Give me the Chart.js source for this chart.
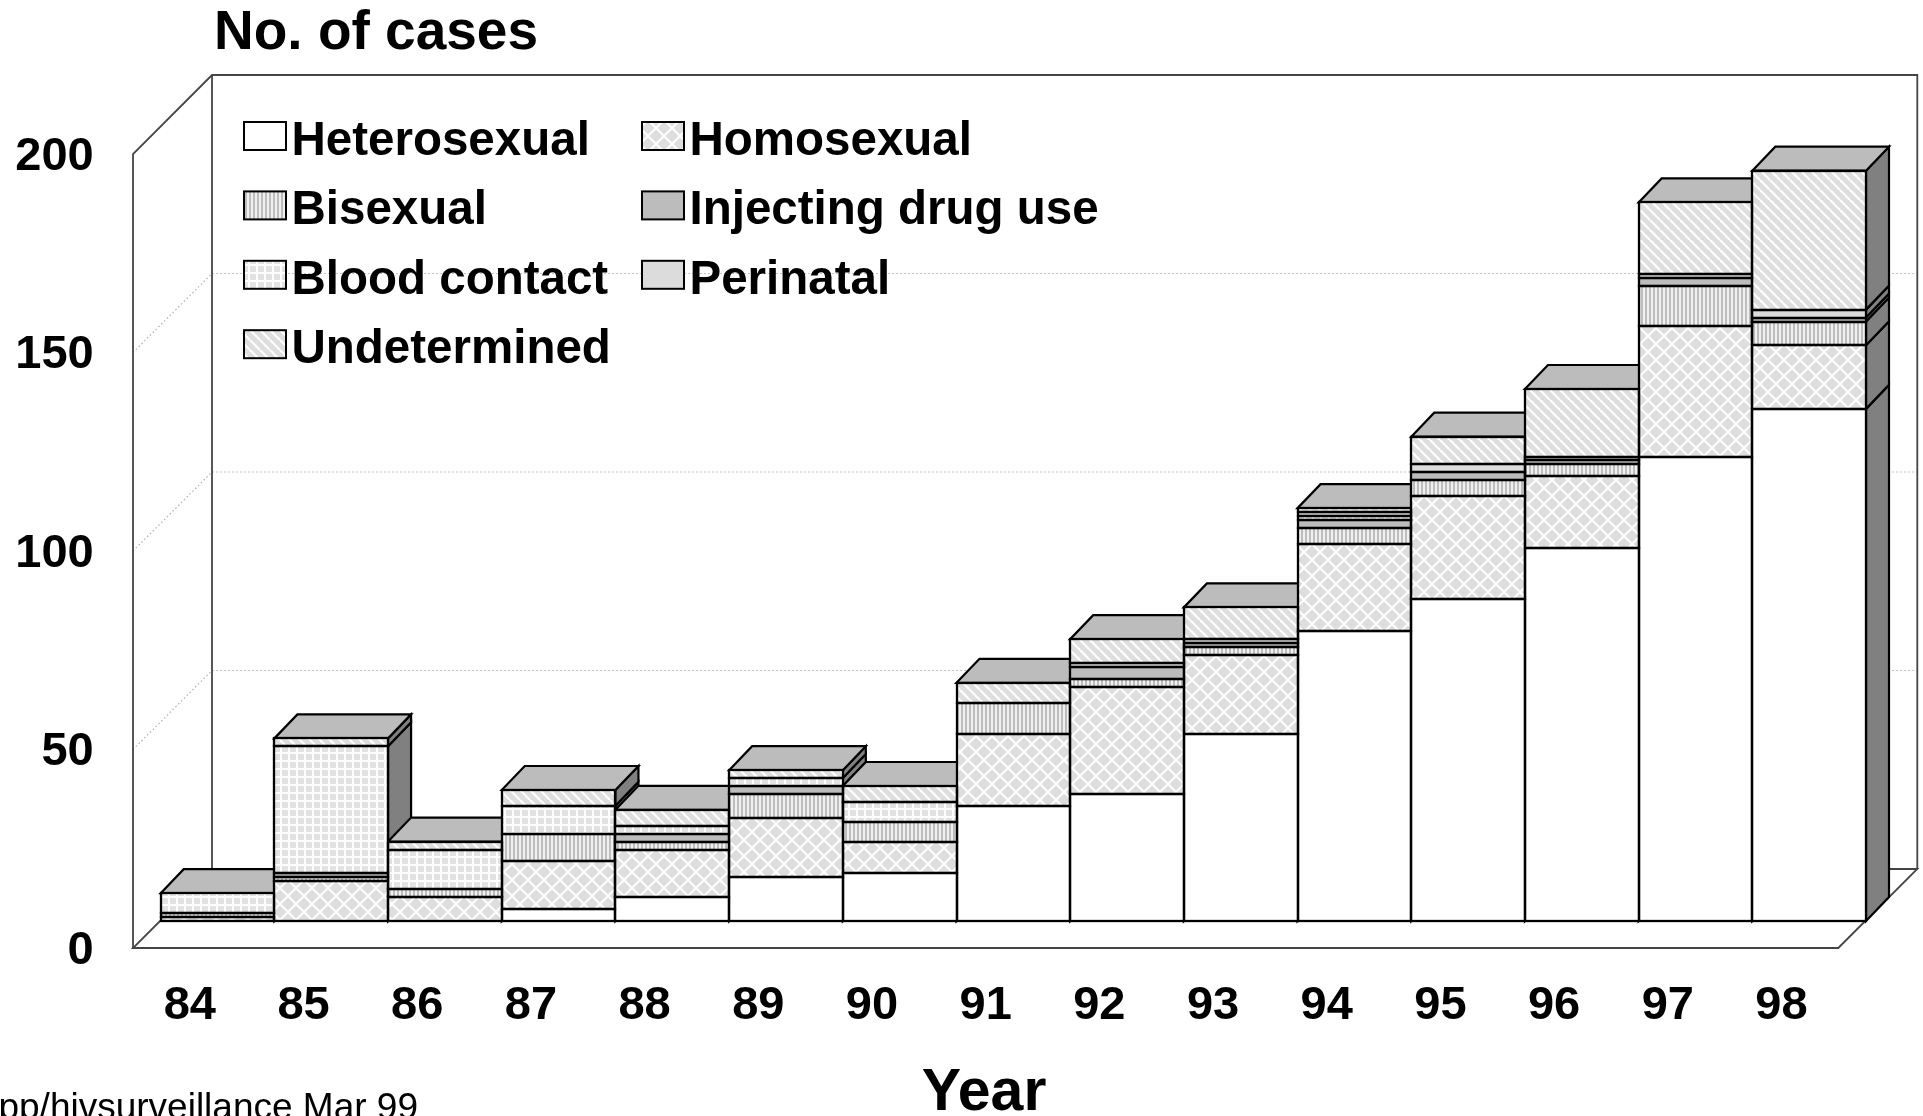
<!DOCTYPE html>
<html>
<head>
<meta charset="utf-8">
<title>No. of cases by year</title>
<script src="https://cdn.jsdelivr.net/npm/chart.js@4"></script>
<style>
    html, body { margin: 0; padding: 0; background: #fff; overflow: hidden; }
    canvas { display: block; }
</style>
</head>
<body>
<canvas id="casesChart" width="1923" height="1116"></canvas>
<script>
const years = ['84', '85', '86', '87', '88', '89', '90', '91', '92', '93', '94', '95', '96', '97', '98'];
const heterosexual = [0, 0, 0, 3, 6, 11, 12, 29, 32, 47, 73, 81, 94, 117, 129];
const homosexual = [1, 10, 6, 12, 12, 15, 8, 18, 27, 20, 22, 26, 18, 33, 16];
const bisexual = [1, 1, 2, 7, 2, 6, 5, 8, 2, 2, 4, 4, 3, 10, 6];
const injectingDrugUse = [0, 1, 0, 0, 2, 2, 0, 0, 3, 1, 2, 2, 1, 2, 1];
const bloodContact = [5, 32, 10, 7, 2, 2, 5, 0, 0, 0, 1, 0, 0, 0, 0];
const perinatal = [0, 0, 0, 0, 0, 0, 0, 0, 1, 1, 1, 2, 1, 1, 2];
const undetermined = [0, 2, 2, 4, 4, 2, 4, 5, 6, 8, 1, 7, 17, 18, 35];

const FONT = '"Liberation Sans", Arial, sans-serif';
const WALL_DEPTH = 79;   // floor depth of the 3D box
const BAR_DX = 23;       // depth of each column, sideways
const BAR_DY = 24;       // depth of each column, upwards
const PLANE_DX = 27.7;   // columns stand this far behind the front edge of the floor
const PLANE_DY = 27;

// Small repeating tiles used as hatch fills
function makeTile(w, h, paint) {
    const tile = document.createElement('canvas');
    tile.width = w;
    tile.height = h;
    paint(tile.getContext('2d'), w, h);
    return tile.getContext('2d').createPattern(tile, 'repeat');
}

function diagonal(ctx, x0, y0, x1, y1) {
    ctx.beginPath();
    ctx.moveTo(x0, y0);
    ctx.lineTo(x1, y1);
    ctx.stroke();
}

const latticeFill = makeTile(16, 16, (ctx, w, h) => {
    ctx.fillStyle = '#dedede';
    ctx.fillRect(0, 0, w, h);
    ctx.strokeStyle = '#fff';
    ctx.lineWidth = 2;
    [-w, 0, w].forEach(dx => {
        diagonal(ctx, dx, 0, dx + w, h);
        diagonal(ctx, dx + w, 0, dx, h);
    });
});

const stripeFill = makeTile(4, 2, (ctx, w, h) => {
    ctx.fillStyle = '#f0f0f0';
    ctx.fillRect(0, 0, w, h);
    ctx.fillStyle = '#bdbdbd';
    ctx.fillRect(1, 0, 2, h);
});

const gridFill = makeTile(8, 8, (ctx, w, h) => {
    ctx.fillStyle = '#e2e2e2';
    ctx.fillRect(0, 0, w, h);
    ctx.fillStyle = '#fff';
    ctx.fillRect(0, 0, w, 2);
    ctx.fillRect(0, 0, 2, h);
});

const slantFill = makeTile(10, 10, (ctx, w, h) => {
    ctx.fillStyle = '#dedede';
    ctx.fillRect(0, 0, w, h);
    ctx.strokeStyle = '#fff';
    ctx.lineWidth = 2.2;
    [-w, 0, w].forEach(dx => diagonal(ctx, dx, 0, dx + w, h));
});

const datasets = [
    { label: 'Heterosexual', data: heterosexual, backgroundColor: '#ffffff' },
    { label: 'Homosexual', data: homosexual, backgroundColor: latticeFill },
    { label: 'Bisexual', data: bisexual, backgroundColor: stripeFill },
    { label: 'Injecting drug use', data: injectingDrugUse, backgroundColor: '#bcbcbc' },
    { label: 'Blood contact', data: bloodContact, backgroundColor: gridFill },
    { label: 'Perinatal', data: perinatal, backgroundColor: '#dcdcdc' },
    { label: 'Undetermined', data: undetermined, backgroundColor: slantFill }
];

function polyline(ctx, points, close) {
    ctx.beginPath();
    points.forEach((p, i) => (i ? ctx.lineTo(p[0], p[1]) : ctx.moveTo(p[0], p[1])));
    if (close) ctx.closePath();
}

// Side walls, floor and dotted grid behind the columns
function drawBox(chart) {
    const { ctx, scales: { x, y } } = chart;
    const left = x.left - PLANE_DX;
    const right = x.right - PLANE_DX;
    const bottom = y.getPixelForValue(0) + PLANE_DY;
    const top = y.getPixelForValue(200) + PLANE_DY;

    ctx.save();
    ctx.strokeStyle = '#b0b0b0';
    ctx.lineWidth = 1.2;
    ctx.setLineDash([1.5, 2.5]);
    [50, 100, 150].forEach(v => {
        const gy = y.getPixelForValue(v) + PLANE_DY;
        polyline(ctx, [[left, gy], [left + WALL_DEPTH, gy - WALL_DEPTH], [right + WALL_DEPTH, gy - WALL_DEPTH]]);
        ctx.stroke();
    });
    ctx.setLineDash([]);

    ctx.strokeStyle = '#444';
    ctx.lineWidth = 1.8;
    polyline(ctx, [[left, bottom], [left, top], [left + WALL_DEPTH, top - WALL_DEPTH],
        [right + WALL_DEPTH, top - WALL_DEPTH], [right + WALL_DEPTH, bottom - WALL_DEPTH]]);
    ctx.stroke();
    polyline(ctx, [[left + WALL_DEPTH, top - WALL_DEPTH], [left + WALL_DEPTH, bottom - WALL_DEPTH]]);
    ctx.stroke();
    polyline(ctx, [[left + WALL_DEPTH, bottom - WALL_DEPTH], [right + WALL_DEPTH, bottom - WALL_DEPTH],
        [right, bottom], [left, bottom]], true);
    ctx.stroke();
    ctx.restore();
}

// Top and right faces of the columns, left to right so each one hides the last
function drawColumnDepth(chart) {
    const { ctx } = chart;
    const metas = chart.getSortedVisibleDatasetMetas();
    ctx.save();
    ctx.lineWidth = 2.2;
    ctx.strokeStyle = '#000';
    ctx.lineJoin = 'miter';
    years.forEach((year, i) => {
        let topBar = null;
        metas.forEach(meta => {
            const bar = meta.data[i];
            if (!chart.data.datasets[meta.index].data[i]) return;
            const xr = bar.x + bar.width / 2;
            ctx.fillStyle = '#808080';
            polyline(ctx, [[xr, bar.base], [xr + BAR_DX, bar.base - BAR_DY], [xr + BAR_DX, bar.y - BAR_DY], [xr, bar.y]], true);
            ctx.fill();
            ctx.stroke();
            topBar = bar;
        });
        if (topBar) {
            const xl = topBar.x - topBar.width / 2;
            const xr = topBar.x + topBar.width / 2;
            ctx.fillStyle = '#bcbcbc';
            polyline(ctx, [[xl, topBar.y], [xl + BAR_DX, topBar.y - BAR_DY], [xr + BAR_DX, topBar.y - BAR_DY], [xr, topBar.y]], true);
            ctx.fill();
            ctx.stroke();
        }
    });
    ctx.restore();
}

// Black outline round each stacked segment, snapped to whole pixels so it stays crisp
function outlineSegments(chart) {
    const { ctx } = chart;
    ctx.save();
    ctx.lineWidth = 2.3;
    ctx.strokeStyle = '#000';
    chart.getSortedVisibleDatasetMetas().forEach(meta => {
        meta.data.forEach((bar, i) => {
            if (!chart.data.datasets[meta.index].data[i]) return;
            const xl = Math.round(bar.x - bar.width / 2);
            const xr = Math.round(bar.x + bar.width / 2);
            const yt = Math.round(bar.y);
            ctx.strokeRect(xl, yt, xr - xl, Math.round(bar.base) - yt);
        });
    });
    ctx.restore();
}

function drawLegend(chart) {
    const { ctx } = chart;
    ctx.save();
    ctx.font = 'bold 47.5px ' + FONT;
    ctx.textBaseline = 'alphabetic';
    chart.data.datasets.forEach((ds, i) => {
        const col = i % 2;
        const row = Math.floor(i / 2);
        const sx = col ? 642 : 244;
        const sy = 122 + row * 69.4;
        ctx.fillStyle = ds.backgroundColor;
        ctx.fillRect(sx, sy, 42, 28);
        ctx.strokeStyle = '#000';
        ctx.lineWidth = 2;
        ctx.strokeRect(sx, sy, 42, 28);
        ctx.fillStyle = '#000';
        ctx.fillText(ds.label, sx + 47.5, sy + 33);
    });
    ctx.restore();
}

function drawCaptions(chart) {
    const { ctx } = chart;
    ctx.save();
    ctx.fillStyle = '#000';
    ctx.textBaseline = 'alphabetic';
    ctx.font = 'bold 55px ' + FONT;
    ctx.fillText('No. of cases', 214, 49);
    ctx.font = 'bold 59px ' + FONT;
    ctx.textAlign = 'center';
    ctx.fillText('Year', 984, 1110);
    ctx.font = '37px ' + FONT;
    ctx.textAlign = 'right';
    ctx.fillText('pp/hivsurveillance Mar 99', 418, 1119);
    ctx.restore();
}

const boxPlugin = {
    id: 'box3d',
    beforeDatasetsDraw(chart) {
        drawBox(chart);
        drawColumnDepth(chart);
    },
    afterDatasetsDraw(chart) {
        outlineSegments(chart);
        drawLegend(chart);
        drawCaptions(chart);
    }
};

new Chart(document.getElementById('casesChart').getContext('2d'), {
    type: 'bar',
    data: { labels: years, datasets: datasets },
    plugins: [boxPlugin],
    options: {
        responsive: false,
        animation: false,
        layout: { padding: { left: 0, top: 127, right: 57, bottom: 0 } },
        datasets: { bar: { barPercentage: 1, categoryPercentage: 1, borderWidth: 0 } },
        plugins: {
            legend: { display: false },
            title: { display: false },
            tooltip: { enabled: false }
        },
        scales: {
            x: {
                stacked: true,
                border: { display: false },
                grid: { display: false, drawTicks: false },
                ticks: {
                    color: '#000',
                    font: { family: FONT, size: 47, weight: 'bold' },
                    padding: 57,
                    labelOffset: -PLANE_DX,
                    maxRotation: 0,
                    autoSkip: false
                },
                afterFit(scale) { scale.height = 195; }
            },
            y: {
                stacked: true,
                min: 0,
                max: 200,
                border: { display: false },
                grid: { display: false, drawTicks: false },
                ticks: {
                    color: '#000',
                    stepSize: 50,
                    font: { family: FONT, size: 47, weight: 'bold' },
                    padding: 67,
                    labelOffset: PLANE_DY + 3
                },
                afterFit(scale) { scale.width = 160.7; }
            }
        }
    }
});
</script>
</body>
</html>
